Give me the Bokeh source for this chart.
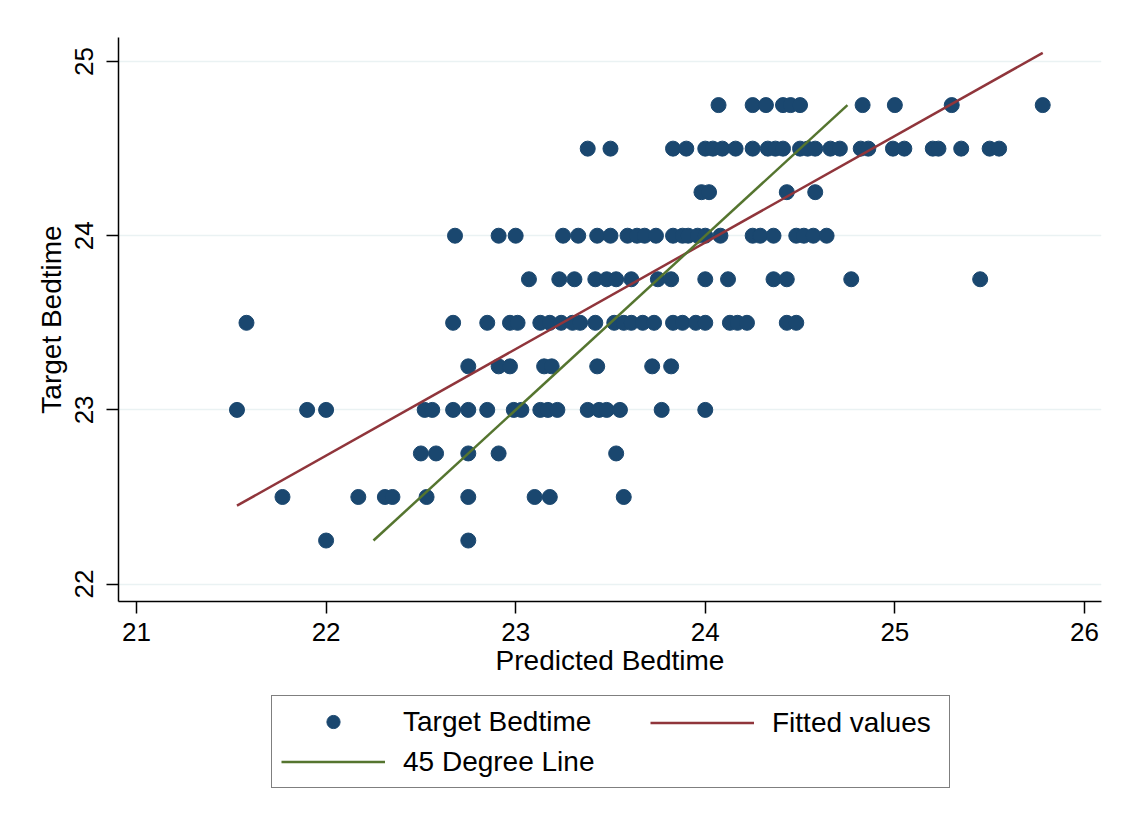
from bokeh.plotting import figure
from bokeh.layouts import column
from bokeh.models import Range1d, Legend, LegendItem, FixedTicker
from bokeh.embed import file_html
from bokeh.resources import INLINE

# Target bedtime levels (y) and the predicted bedtimes (x) of the points on each level
target_levels = [24.75, 24.5, 24.25, 24.0, 23.75, 23.5, 23.25, 23.0, 22.75, 22.5, 22.25]

pred_2475 = [24.07, 24.25, 24.32, 24.41, 24.45, 24.50, 24.83, 25.00, 25.30, 25.78]
pred_2450 = [23.38, 23.50, 23.83, 23.90, 24.00, 24.04, 24.09, 24.16, 24.25, 24.33,
             24.37, 24.41, 24.50, 24.54, 24.58, 24.66, 24.71, 24.82, 24.86, 24.99,
             25.05, 25.20, 25.23, 25.35, 25.50, 25.55]
pred_2425 = [23.98, 24.02, 24.43, 24.58]
pred_2400 = [22.68, 22.91, 23.00, 23.25, 23.33, 23.43, 23.50, 23.59, 23.64, 23.68,
             23.74, 23.83, 23.88, 23.91, 23.96, 24.00, 24.08, 24.25, 24.29, 24.36,
             24.48, 24.52, 24.57, 24.64]
pred_2375 = [23.07, 23.23, 23.31, 23.42, 23.48, 23.53, 23.61, 23.75, 23.82, 24.00,
             24.12, 24.36, 24.43, 24.77, 25.45]
pred_2350 = [21.58, 22.67, 22.85, 22.97, 23.01, 23.13, 23.18, 23.24, 23.30, 23.34,
             23.42, 23.52, 23.57, 23.61, 23.67, 23.73, 23.83, 23.88, 23.95, 24.00,
             24.13, 24.17, 24.22, 24.43, 24.48]
pred_2325 = [22.75, 22.91, 22.97, 23.15, 23.19, 23.43, 23.72, 23.82]
pred_2300 = [21.53, 21.90, 22.00, 22.52, 22.56, 22.67, 22.75, 22.85, 22.99, 23.03,
             23.13, 23.17, 23.22, 23.38, 23.44, 23.48, 23.55, 23.77, 24.00]
pred_2275 = [22.50, 22.58, 22.75, 22.91, 23.53]
pred_2250 = [21.77, 22.17, 22.31, 22.35, 22.53, 22.75, 23.10, 23.18, 23.57]
pred_2225 = [22.00, 22.75]

# Fitted values line (endpoints) and 45 degree line (endpoints)
fit_x = [21.53, 25.78]
fit_y = [22.45, 25.05]
deg45_vals = [22.25, 24.75]

x_ticks = [21, 22, 23, 24, 25, 26]
y_ticks = [22, 23, 24, 25]

rows = [pred_2475, pred_2450, pred_2425, pred_2400, pred_2375, pred_2350,
        pred_2325, pred_2300, pred_2275, pred_2250, pred_2225]
xs, ys = [], []
for lvl, row in zip(target_levels, rows):
    xs += row
    ys += [lvl] * len(row)

NAVY = "#1a476f"
MAROON = "#90353b"
GREEN = "#55752f"
FONT = "Liberation Sans"
FS_TICK = "26px"
FS_TITLE = "28px"
LW = 2.5

p = figure(width=1120, height=690, output_backend="svg", toolbar_location=None,
           x_range=Range1d(20.905, 26.09), y_range=Range1d(21.90, 25.138),
           min_border_left=118, min_border_right=19, min_border_top=37,
           min_border_bottom=89)
p.outline_line_color = None
p.background_fill_color = "white"
p.border_fill_color = "white"

r_pts = p.scatter(xs, ys, size=15, fill_color=NAVY, line_color=NAVY)
r_fit = p.line(fit_x, fit_y, line_color=MAROON, line_width=LW)
r_45 = p.line(deg45_vals, deg45_vals, line_color=GREEN, line_width=LW)

p.xaxis.ticker = FixedTicker(ticks=x_ticks)
p.yaxis.ticker = FixedTicker(ticks=y_ticks)
p.xaxis.axis_label = "Predicted Bedtime"
p.yaxis.axis_label = "Target Bedtime"
for ax in (p.xaxis[0], p.yaxis[0]):
    ax.major_tick_out = 12
    ax.major_tick_in = 0
    ax.minor_tick_out = 0
    ax.minor_tick_in = 0
    ax.axis_line_color = "black"
    ax.axis_line_width = 1.5
    ax.major_tick_line_color = "black"
    ax.major_tick_line_width = 1.5
    ax.major_label_text_font = FONT
    ax.major_label_text_font_size = FS_TICK
    ax.major_label_text_color = "black"
    ax.axis_label_text_font = FONT
    ax.axis_label_text_font_size = FS_TITLE
    ax.axis_label_text_font_style = "normal"
    ax.axis_label_text_color = "black"
p.yaxis.major_label_orientation = "vertical"
p.xaxis.major_label_standoff = 9
p.xaxis.axis_label_standoff = 1
p.yaxis.major_label_standoff = 13
p.yaxis.axis_label_standoff = 6

p.xgrid.grid_line_color = None
p.ygrid.ticker = FixedTicker(ticks=y_ticks)
p.ygrid.grid_line_color = "#eaf2f3"
p.ygrid.grid_line_width = 1.5

# Legend lives in a second, axis-less figure directly below the plot
# (its frame is aligned with the main plot's frame by the column layout)
q = figure(width=1120, height=126, output_backend="svg", toolbar_location=None,
           x_range=Range1d(0, 1), y_range=Range1d(0, 1),
           x_axis_type=None, y_axis_type=None, min_border=0)
q.outline_line_color = None
q.xgrid.grid_line_color = None
q.ygrid.grid_line_color = None
q.background_fill_color = "white"
q.border_fill_color = "white"
# legend-key renderers: single points placed outside the visible range
k_pts = q.scatter([-5], [-5], size=15, fill_color=NAVY, line_color=NAVY)
k_fit = q.line([-5, -4], [-5, -4], line_color=MAROON, line_width=LW)
k_45 = q.line([-5, -4], [-5, -4], line_color=GREEN, line_width=LW)

common = dict(padding=9, spacing=7, glyph_width=104, glyph_height=33,
              label_standoff=18, label_text_font=FONT, label_text_font_size=FS_TITLE,
              label_text_color="black", margin=0)
legA = Legend(items=[LegendItem(label="Target Bedtime", renderers=[k_pts]),
                     LegendItem(label="45 Degree Line", renderers=[k_45])],
              location=(153, 28), label_width=537,
              border_line_color="black", border_line_width=1.5,
              background_fill_color="white", background_fill_alpha=1.0, **common)
legB = Legend(items=[LegendItem(label="Fitted values", renderers=[k_fit])],
              location=(532, 77), border_line_color=None,
              background_fill_alpha=0.0, **common)
q.add_layout(legA, "center")
q.add_layout(legB, "center")

layout = column(p, q, spacing=0)
open("out.html", "w").write(file_html(layout, INLINE))
